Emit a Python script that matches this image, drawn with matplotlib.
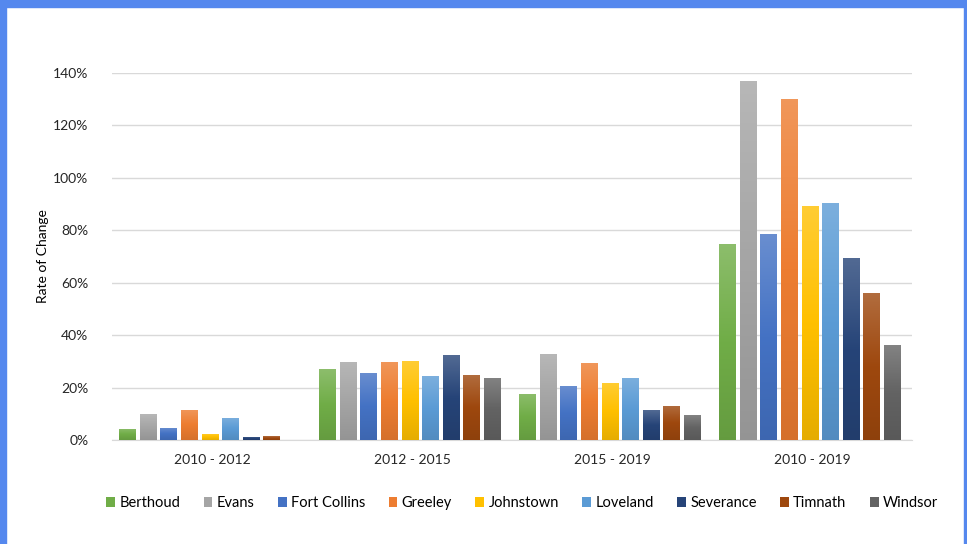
import numpy as np
import matplotlib.pyplot as plt
import matplotlib.colors as mcolors
from matplotlib.patches import Rectangle, Patch

plt.rcParams['font.family'] = ['Lato', 'DejaVu Sans']

periods = ['2010 - 2012', '2012 - 2015', '2015 - 2019', '2010 - 2019']
towns = ['Berthoud', 'Evans', 'Fort Collins', 'Greeley', 'Johnstown',
         'Loveland', 'Severance', 'Timnath', 'Windsor']
colors = ['#70AD47', '#A5A5A5', '#4472C4', '#ED7D31', '#FFC000',
          '#5B9BD5', '#264478', '#9E480E', '#636363']

# rate of change per town, one value per period (fraction)
berthoud = [0.042, 0.270, 0.177, 0.749]
evans = [0.098, 0.298, 0.328, 1.371]
fort_collins = [0.046, 0.256, 0.206, 0.786]
greeley = [0.116, 0.298, 0.295, 1.301]
johnstown = [0.023, 0.301, 0.219, 0.891]
loveland = [0.085, 0.244, 0.237, 0.903]
severance = [0.013, 0.324, 0.113, 0.694]
timnath = [0.015, 0.249, 0.131, 0.561]
windsor = [0.0, 0.238, 0.094, 0.362]
values = [berthoud, evans, fort_collins, greeley, johnstown,
          loveland, severance, timnath, windsor]

fig = plt.figure(figsize=(9.67, 5.44), dpi=100)
ax = fig.add_axes([112/967, 104/544, 800/967, 367/544])

x = np.arange(len(periods))
step = 0.103
grad = np.linspace(0, 1, 100).reshape(-1, 1)
for i, (town, vals) in enumerate(zip(towns, values)):
    bars = ax.bar(x + (i - 4)*step - 0.01, vals, width=0.085, color=colors[i],
                  label=town, zorder=3)
    base = np.array(mcolors.to_rgb(colors[i]))
    light = base + (1 - base)*0.2
    dark = base*0.9
    cmap = mcolors.LinearSegmentedColormap.from_list('g' + town, [dark, base, light])
    for b in bars:
        h = b.get_height()
        if h <= 0:
            continue
        x0 = b.get_x()
        im = ax.imshow(grad, extent=(x0, x0 + b.get_width(), 0, h),
                       cmap=cmap, aspect='auto', origin='lower', zorder=4)
        im.set_clip_path(b)

ax.set_xlim(-0.5, 3.5)
ax.set_ylim(0, 1.4)
ax.set_yticks(np.arange(0, 1.41, 0.2))
ax.set_yticklabels(['%d%%' % round(v*100) for v in np.arange(0, 1.41, 0.2)],
                   fontsize=10, color='#262626')
ax.set_xticks(x)
ax.set_xticklabels(periods, fontsize=10, color='#262626')
ax.tick_params(axis='both', length=0)
ax.tick_params(axis='y', pad=17)
ax.tick_params(axis='x', pad=10)
ax.grid(axis='y', color='#D9D9D9', linewidth=1, zorder=0)
for s in ['top', 'right', 'left']:
    ax.spines[s].set_visible(False)
ax.spines['bottom'].set_color('#D9D9D9')
ax.set_ylabel('Rate of Change', fontsize=10, color='#000000', labelpad=3)

handles = [Patch(facecolor=c, label=t) for c, t in zip(colors, towns)]
fig.legend(handles=handles, loc='center', bbox_to_anchor=(0.54, 0.075),
           ncol=9, frameon=False, fontsize=10.5, handlelength=0.6,
           handleheight=0.6, handletextpad=0.3, columnspacing=1.6)

# blue frame
fc = '#5588EE'
fig.patches.append(Rectangle((0, 0), 6/967, 1, transform=fig.transFigure,
                             color=fc, zorder=10))
fig.patches.append(Rectangle((0, 1 - 7/544), 1, 7/544,
                             transform=fig.transFigure, color=fc, zorder=10))
fig.patches.append(Rectangle((1 - 3/967, 0), 3/967, 1,
                             transform=fig.transFigure, color=fc, zorder=10))

fig.savefig('out.png', dpi=100)
